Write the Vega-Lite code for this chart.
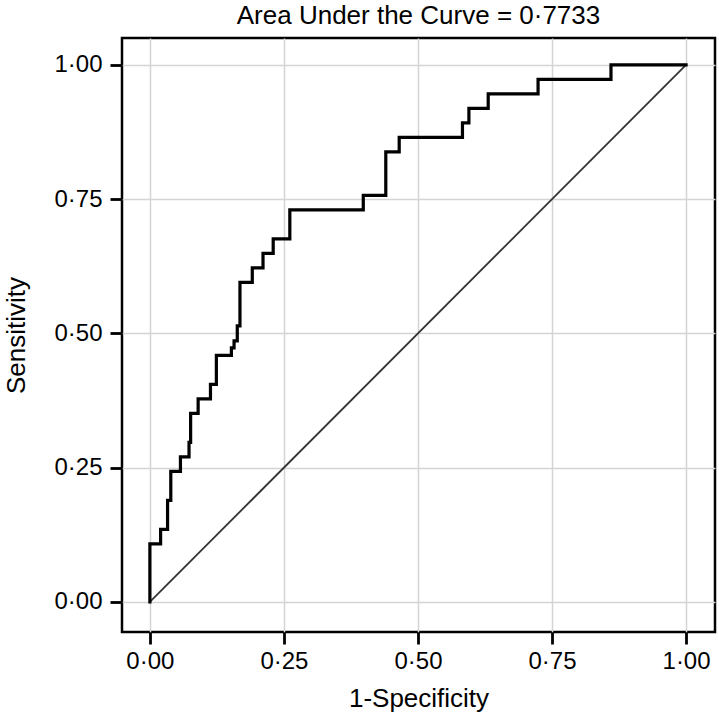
{
  "$schema": "https://vega.github.io/schema/vega-lite/v6.json",
  "autosize": {"type": "none"},
  "padding": {"left": 122, "top": 38, "right": 4, "bottom": 82},
  "width": 593,
  "height": 594,
  "background": "white",
  "title": {"text": "Area Under the Curve = 0·7733", "fontSize": 26, "fontWeight": "normal", "font": "Liberation Sans", "color": "black", "anchor": "middle", "offset": 9},
  "config": {
    "view": {"stroke": "black", "strokeWidth": 2.5},
    "axis": {
      "domain": false,
      "ticks": true,
      "tickColor": "black",
      "tickWidth": 2.8,
      "tickSize": 12,
      "labelFont": "Liberation Sans",
      "labelFontSize": 24,
      "labelColor": "black",
      "titleFont": "Liberation Sans",
      "titleFontSize": 26,
      "titleFontWeight": "normal",
      "titleColor": "black",
      "grid": true,
      "gridColor": "#d4d4d4",
      "gridWidth": 1.5
    }
  },
  "datasets": {
    "roc": [
      {"i": 0, "fpr": 0, "tpr": 0},
      {"i": 1, "fpr": 0, "tpr": 0.108},
      {"i": 2, "fpr": 0.020, "tpr": 0.108},
      {"i": 3, "fpr": 0.020, "tpr": 0.135},
      {"i": 4, "fpr": 0.033, "tpr": 0.135},
      {"i": 5, "fpr": 0.033, "tpr": 0.189},
      {"i": 6, "fpr": 0.039, "tpr": 0.189},
      {"i": 7, "fpr": 0.039, "tpr": 0.243},
      {"i": 8, "fpr": 0.057, "tpr": 0.243},
      {"i": 9, "fpr": 0.057, "tpr": 0.270},
      {"i": 10, "fpr": 0.073, "tpr": 0.270},
      {"i": 11, "fpr": 0.073, "tpr": 0.297},
      {"i": 12, "fpr": 0.076, "tpr": 0.297},
      {"i": 13, "fpr": 0.076, "tpr": 0.351},
      {"i": 14, "fpr": 0.090, "tpr": 0.351},
      {"i": 15, "fpr": 0.090, "tpr": 0.378},
      {"i": 16, "fpr": 0.113, "tpr": 0.378},
      {"i": 17, "fpr": 0.113, "tpr": 0.405},
      {"i": 18, "fpr": 0.124, "tpr": 0.405},
      {"i": 19, "fpr": 0.124, "tpr": 0.459},
      {"i": 20, "fpr": 0.152, "tpr": 0.459},
      {"i": 21, "fpr": 0.152, "tpr": 0.473},
      {"i": 22, "fpr": 0.157, "tpr": 0.473},
      {"i": 23, "fpr": 0.157, "tpr": 0.486},
      {"i": 24, "fpr": 0.163, "tpr": 0.486},
      {"i": 25, "fpr": 0.163, "tpr": 0.514},
      {"i": 26, "fpr": 0.168, "tpr": 0.514},
      {"i": 27, "fpr": 0.168, "tpr": 0.595},
      {"i": 28, "fpr": 0.191, "tpr": 0.595},
      {"i": 29, "fpr": 0.191, "tpr": 0.622},
      {"i": 30, "fpr": 0.211, "tpr": 0.622},
      {"i": 31, "fpr": 0.211, "tpr": 0.649},
      {"i": 32, "fpr": 0.230, "tpr": 0.649},
      {"i": 33, "fpr": 0.230, "tpr": 0.676},
      {"i": 34, "fpr": 0.261, "tpr": 0.676},
      {"i": 35, "fpr": 0.261, "tpr": 0.730},
      {"i": 36, "fpr": 0.398, "tpr": 0.730},
      {"i": 37, "fpr": 0.398, "tpr": 0.757},
      {"i": 38, "fpr": 0.440, "tpr": 0.757},
      {"i": 39, "fpr": 0.440, "tpr": 0.838},
      {"i": 40, "fpr": 0.465, "tpr": 0.838},
      {"i": 41, "fpr": 0.465, "tpr": 0.865},
      {"i": 42, "fpr": 0.583, "tpr": 0.865},
      {"i": 43, "fpr": 0.583, "tpr": 0.892},
      {"i": 44, "fpr": 0.595, "tpr": 0.892},
      {"i": 45, "fpr": 0.595, "tpr": 0.919},
      {"i": 46, "fpr": 0.631, "tpr": 0.919},
      {"i": 47, "fpr": 0.631, "tpr": 0.946},
      {"i": 48, "fpr": 0.724, "tpr": 0.946},
      {"i": 49, "fpr": 0.724, "tpr": 0.973},
      {"i": 50, "fpr": 0.860, "tpr": 0.973},
      {"i": 51, "fpr": 0.860, "tpr": 1},
      {"i": 52, "fpr": 1, "tpr": 1}
    ],
    "diag": [
      {"i": 0, "fpr": 0, "tpr": 0},
      {"i": 1, "fpr": 1, "tpr": 1}
    ]
  },
  "layer": [
    {
      "data": {"name": "diag"},
      "mark": {"type": "line", "color": "#333333", "strokeWidth": 1.8},
      "encoding": {
        "x": {"field": "fpr", "type": "quantitative", "scale": {"domain": [-0.052, 1.054], "nice": false, "zero": false},
              "axis": {"title": "1-Specificity", "values": [0, 0.25, 0.5, 0.75, 1], "labelExpr": "replace(format(datum.value, '.2f'), '.', '·')", "labelPadding": 5, "titlePadding": 12}},
        "y": {"field": "tpr", "type": "quantitative", "scale": {"domain": [-0.056, 1.05], "nice": false, "zero": false},
              "axis": {"title": "Sensitivity", "values": [0, 0.25, 0.5, 0.75, 1], "labelExpr": "replace(format(datum.value, '.2f'), '.', '·')", "labelPadding": 8, "titlePadding": 24}},
        "order": {"field": "i", "type": "quantitative"}
      }
    },
    {
      "data": {"name": "roc"},
      "mark": {"type": "line", "color": "black", "strokeWidth": 3.2, "strokeJoin": "miter", "strokeCap": "square"},
      "encoding": {
        "x": {"field": "fpr", "type": "quantitative"},
        "y": {"field": "tpr", "type": "quantitative"},
        "order": {"field": "i", "type": "quantitative"}
      }
    }
  ]
}
